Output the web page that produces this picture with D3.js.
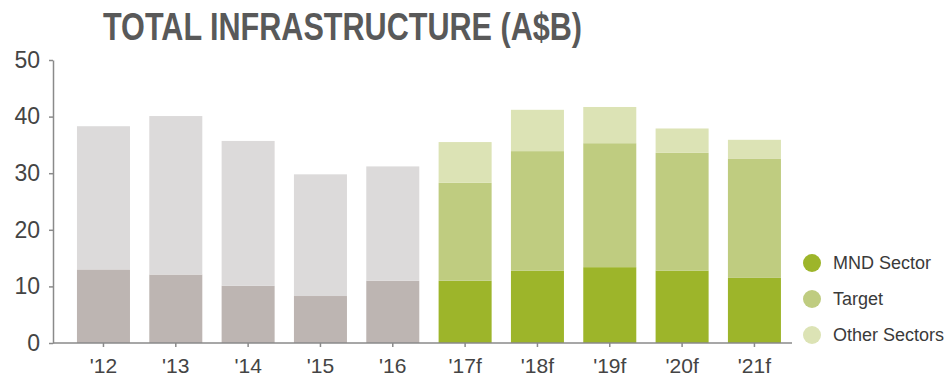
<!DOCTYPE html>
<html>
<head>
<meta charset="utf-8">
<script src="https://cdn.jsdelivr.net/npm/d3@7"></script>
<style>
  html, body { margin: 0; padding: 0; background: #fff; }
  svg { display: block; }
</style>
</head>
<body>
<svg id="chart" width="952" height="378"></svg>
<script>
// Years on the x axis; labels ending in "f" are forecasts
const years = ["'12", "'13", "'14", "'15", "'16", "'17f", "'18f", "'19f", "'20f", "'21f"];

// Segment values in A$B, stacked bottom to top
const mndSector    = [13.0, 12.1, 10.1, 8.3, 11.0, 11.0, 12.8, 13.4, 12.8, 11.5];
const target       = [0, 0, 0, 0, 0, 17.3, 21.1, 21.9, 20.8, 21.1];
const otherSectors = [25.3, 28.0, 25.6, 21.5, 20.2, 7.2, 7.3, 6.4, 4.3, 3.3];

const yTicks = [0, 10, 20, 30, 40, 50];
const seriesKeys = ["MND Sector", "Target", "Other Sectors"];

// Fill colours: forecast years in greens, actual years in greys
const forecastColors = { "MND Sector": "#9db52a", "Target": "#bfcc80", "Other Sectors": "#dce3b5" };
const actualColors   = { "MND Sector": "#bdb5b2", "Target": "#bdb5b2", "Other Sectors": "#dcdada" };

const rows = years.map((y, i) => ({
  year: y,
  forecast: y.endsWith("f"),
  "MND Sector": mndSector[i],
  "Target": target[i],
  "Other Sectors": otherSectors[i]
}));

const svg = d3.select("#chart");

const x = d3.scaleBand()
  .domain(years)
  .range([67.3, 790.6])
  .paddingInner(0.267)
  .paddingOuter(0.1335);

const y = d3.scaleLinear()
  .domain([0, 50])
  .range([343, 60]);

// Title
svg.append("text")
  .attr("x", 342.5)
  .attr("y", 40)
  .attr("text-anchor", "middle")
  .attr("font-family", "'Liberation Sans', Arial, sans-serif")
  .attr("font-weight", "bold")
  .attr("font-size", 38)
  .attr("textLength", 479)
  .attr("lengthAdjust", "spacingAndGlyphs")
  .attr("fill", "#595959")
  .text("TOTAL INFRASTRUCTURE (A$B)");

// Stacked bars
const stacked = d3.stack().keys(seriesKeys)(rows);
svg.append("g")
  .selectAll("g")
  .data(stacked)
  .join("g")
  .selectAll("rect")
  .data(d => d.map(s => ({ key: d.key, s })))
  .join("rect")
  .filter(d => d.s[1] - d.s[0] > 0)
  .attr("x", d => x(d.s.data.year))
  .attr("width", x.bandwidth())
  .attr("y", d => y(d.s[1]))
  .attr("height", d => y(d.s[0]) - y(d.s[1]))
  .attr("fill", d => (d.s.data.forecast ? forecastColors : actualColors)[d.key]);

// Y axis
const yAxis = svg.append("g")
  .attr("transform", "translate(53,0)")
  .call(d3.axisLeft(y).tickValues(yTicks).tickSize(4).tickSizeOuter(0).tickPadding(9));
yAxis.select(".domain").attr("stroke", "#8a8a8a").attr("stroke-width", 1.5);
yAxis.selectAll(".tick line").attr("stroke", "#8a8a8a").attr("stroke-width", 1.5);
yAxis.selectAll(".tick text")
  .attr("font-family", "'Liberation Sans', Arial, sans-serif")
  .attr("font-size", 23)
  .attr("fill", "#444");

// X axis
const xAxis = svg.append("g")
  .attr("transform", "translate(0,343)")
  .call(d3.axisBottom(x).tickSize(4).tickSizeOuter(0).tickPadding(11));
xAxis.select(".domain").remove();
xAxis.insert("line", ":first-child")
  .attr("x1", 53).attr("x2", 792)
  .attr("y1", 0).attr("y2", 0)
  .attr("stroke", "#8a8a8a").attr("stroke-width", 1.5);
xAxis.selectAll(".tick line").attr("stroke", "#8a8a8a").attr("stroke-width", 1.5);
xAxis.selectAll(".tick text")
  .attr("font-family", "'Liberation Sans', Arial, sans-serif")
  .attr("font-size", 21)
  .attr("fill", "#444");

// Legend
const legend = svg.append("g")
  .selectAll("g")
  .data(seriesKeys)
  .join("g")
  .attr("transform", (d, i) => `translate(812,${263 + i * 36})`);
legend.append("circle")
  .attr("r", 9)
  .attr("fill", d => forecastColors[d]);
legend.append("text")
  .attr("x", 21)
  .attr("dy", "0.35em")
  .attr("font-family", "'Liberation Sans', Arial, sans-serif")
  .attr("font-size", 18)
  .attr("fill", "#3a3a3a")
  .text(d => d);
</script>
</body>
</html>
